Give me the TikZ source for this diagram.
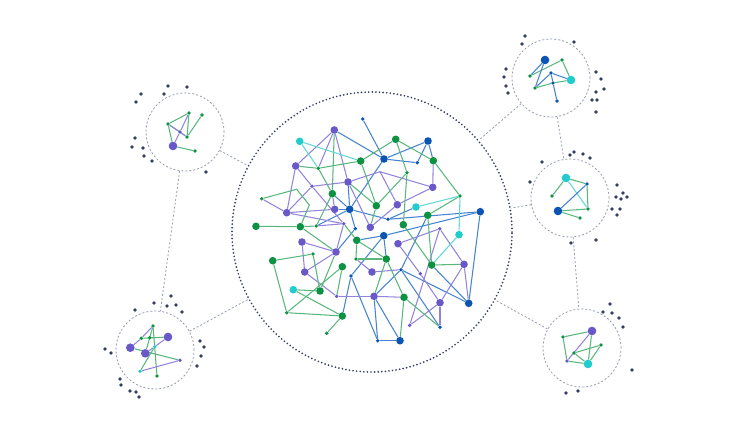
\documentclass[tikz,border=0pt]{standalone}
\pgfdeclarelayer{bg}
\pgfsetlayers{bg,main}
\definecolor{ngreen}{RGB}{12,146,66}
\definecolor{npurple}{RGB}{104,88,200}
\definecolor{nblue}{RGB}{10,84,180}
\definecolor{ncyan}{RGB}{34,204,204}
\definecolor{lgreen}{RGB}{88,184,124}
\definecolor{lpurple}{RGB}{146,132,220}
\definecolor{lblue}{RGB}{70,132,210}
\definecolor{lcyan}{RGB}{96,216,216}
\definecolor{navy}{RGB}{52,62,100}
\definecolor{dashc}{RGB}{150,158,178}
\begin{document}
\begin{tikzpicture}[x=1pt,y=-1pt,
  dotn/.style={circle,inner sep=0pt,draw=none},
  gbig/.style={dotn,minimum size=7.6pt,fill=ngreen},
  gsm/.style={dotn,minimum size=3.8pt,fill=ngreen},
  pbig/.style={dotn,minimum size=7.6pt,fill=npurple},
  psm/.style={dotn,minimum size=3.8pt,fill=npurple},
  bbig/.style={dotn,minimum size=7.6pt,fill=nblue},
  bsm/.style={dotn,minimum size=3.8pt,fill=nblue},
  cbig/.style={dotn,minimum size=7.6pt,fill=ncyan},
  csm/.style={dotn,minimum size=3.8pt,fill=ncyan},
  mbig/.style={minimum size=8.6pt},
  eg/.style={draw=lgreen,line width=1.05pt},
  ep/.style={draw=lpurple,line width=1.05pt},
  eb/.style={draw=lblue,line width=1.05pt},
  ec/.style={draw=lcyan,line width=1.05pt},
  maincirc/.style={circle,inner sep=0pt,minimum size=280pt,draw=navy,line width=1.9pt,dash pattern=on 0pt off 3.6pt,line cap=round},
  minicirc/.style={circle,inner sep=0pt,minimum size=78pt,draw=dashc,line width=0.8pt,dash pattern=on 2pt off 2pt},
  link/.style={draw=dashc,line width=0.8pt,dash pattern=on 2pt off 2pt},
  deco/.style={fill=navy}
]
\useasboundingbox (0,0) rectangle (737,434);

% circles
\node[maincirc] (M) at (372,232) {};
\node[minicirc] (TL) at (185,132) {};
\node[minicirc] (BL) at (155,350) {};
\node[minicirc] (TR) at (551,78) {};
\node[minicirc] (MR) at (570,198) {};
\node[minicirc] (BR) at (582,348) {};

% main network nodes
\node[bsm]  (n1)  at (362.7,119) {};
\node[pbig] (n2)  at (334.3,130) {};
\node[cbig] (n3)  at (299.7,141.3) {};
\node[gbig] (n4)  at (395.7,139.3) {};
\node[bbig] (n5)  at (428,141) {};
\node[gbig] (n6)  at (360.7,161) {};
\node[bbig] (n7)  at (384,159) {};
\node[bsm]  (n8)  at (417.3,162.7) {};
\node[gbig] (n9)  at (433.3,160.7) {};
\node[pbig] (n10) at (295.7,166) {};
\node[gsm]  (n11) at (318.3,168.3) {};
\node[gsm]  (n12) at (407,172.7) {};
\node[pbig] (n13) at (348,182) {};
\node[psm]  (n14) at (312,186.3) {};
\node[pbig] (n15) at (432.7,187.3) {};
\node[gsm]  (n16) at (261.7,198.7) {};
\node[gbig] (n17) at (332.3,193.7) {};
\node[gsm]  (n18) at (460,196) {};
\node[pbig] (n19) at (334.7,209.3) {};
\node[bbig] (n20) at (349.7,209.3) {};
\node[gbig] (n21) at (376.3,205.7) {};
\node[pbig] (n22) at (397.3,204.7) {};
\node[cbig] (n23) at (416,207) {};
\node[bbig] (n24) at (480.3,211.7) {};
\node[pbig] (n25) at (286.7,212.7) {};
\node[gbig] (n26) at (427.7,215.3) {};
\node[bsm]  (n27) at (388,219.3) {};
\node[gbig] (n28) at (256,226.3) {};
\node[gbig] (n29) at (300.3,226.7) {};
\node[gsm]  (n30) at (316.3,226) {};
\node[psm]  (n31) at (343.7,223.7) {};
\node[bsm]  (n32) at (355.3,228.7) {};
\node[pbig] (n33) at (370.3,227.3) {};
\node[gbig] (n34) at (403.3,224.7) {};
\node[bbig] (n35) at (383.7,235.7) {};
\node[cbig] (n36) at (459,234.7) {};
\node[pbig] (n37) at (302,242) {};
\node[gbig] (n38) at (356.7,240.3) {};
\node[pbig] (n39) at (398,243.7) {};
\node[psm]  (n40) at (439.7,228.7) {};
\node[pbig] (n41) at (336,252) {};
\node[gsm]  (n42) at (313,254) {};
\node[gbig] (n43) at (272.7,260.7) {};
\node[gbig] (n44) at (386.3,259) {};
\node[gsm]  (n45) at (356,259) {};
\node[gbig] (n46) at (431.7,265) {};
\node[pbig] (n47) at (464,264.3) {};
\node[gbig] (n48) at (342.3,266.7) {};
\node[pbig] (n49) at (304.7,272) {};
\node[bsm]  (n50) at (401,269.7) {};
\node[pbig] (n51) at (372,272) {};
\node[bsm]  (n52) at (351,276) {};
\node[psm]  (n53) at (420.3,273.7) {};
\node[cbig] (n54) at (293.3,289.7) {};
\node[gbig] (n55) at (320,291) {};
\node[pbig] (n56) at (374,296.3) {};
\node[gbig] (n57) at (404,297.3) {};
\node[psm]  (n58) at (336.7,296.3) {};
\node[pbig] (n59) at (440,302.7) {};
\node[bbig] (n60) at (468.7,303.3) {};
\node[gsm]  (n61) at (286.7,312.7) {};
\node[gbig] (n62) at (342.3,316) {};
\node[psm]  (n63) at (409.7,325.3) {};
\node[bsm]  (n64) at (440,327.3) {};
\node[gsm]  (n65) at (326.7,333.3) {};
\node[bsm]  (n66) at (377.7,340.7) {};
\node[bbig] (n67) at (400,340.7) {};
\coordinate (J1) at (296.7,189.3);
\coordinate (J2) at (309.3,205);
\coordinate (X) at (380,171.7);

% mini networks
\node[gsm] (a1) at (189,113) {};
\node[gsm] (a2) at (202,115) {};
\node[gsm] (a3) at (168,124) {};
\node[psm] (a4) at (180,132) {};
\node[gsm] (a5) at (187,137) {};
\node[pbig,mbig] (a6) at (173,146) {};
\node[gsm] (a7) at (195,151) {};

\node[gsm] (b1) at (153,326) {};
\node[gsm] (b2) at (141.3,338.3) {};
\node[gsm] (b3) at (149.7,337.7) {};
\node[pbig,mbig] (b4) at (168,337) {};
\node[pbig,mbig] (b5) at (130.3,347.7) {};
\node[csm] (b6) at (154.7,346.7) {};
\node[pbig,mbig] (b7) at (145.3,353.3) {};
\node[psm] (b8) at (180,360.3) {};
\node[csm] (b9) at (140,371.3) {};
\node[gsm] (b10) at (157,376) {};

\node[bbig,mbig] (c1) at (545,60) {};
\node[gsm] (c2) at (562,60) {};
\node[gsm] (c3) at (530,76) {};
\node[bsm] (c4) at (551,73) {};
\node[bsm] (c5) at (553,83) {};
\node[gsm] (c6) at (535,88) {};
\node[cbig,mbig] (c7) at (571,80) {};
\node[bsm] (c8) at (557,101) {};

\node[cbig,mbig] (d1) at (566,178) {};
\node[bsm] (d2) at (587,184) {};
\node[gsm] (d3) at (552,196) {};
\node[bbig,mbig] (d4) at (558,211) {};
\node[gsm] (d5) at (588,209) {};
\node[gsm] (d6) at (580,218) {};

\node[pbig,mbig] (e1) at (592,331) {};
\node[gsm] (e2) at (563,337) {};
\node[gsm] (e3) at (601,345) {};
\node[gsm] (e4) at (574,353) {};
\node[psm] (e5) at (567,361) {};
\node[cbig,mbig] (e6) at (588,364) {};

\begin{pgfonlayer}{bg}
\fill[white] (0,0) rectangle (737,434);
% dashed links between circles
\draw[link] (TL) -- (M);
\draw[link] (BL) -- (M);
\draw[link] (TR) -- (M);
\draw[link] (MR) -- (M);
\draw[link] (BR) -- (M);
\draw[link] (TL) -- (BL);
\draw[link] (TR) -- (MR);
\draw[link] (MR) -- (BR);

% main edges
\foreach \a/\b in {1/7,2/7,7/5,7/8,5/8,5/9,7/20,13/20,17/20,20/32,20/27,30/20,27/23,27/24,35/24,24/60,26/50,32/41,52/62,52/66,52/35,35/38,35/44,46/60,50/60,50/64,50/56,56/66,56/67,66/67,19/20}
  \draw[eb] (n\a) -- (n\b);
\foreach \a/\b in {2/10,2/11,2/13,10/14,10/25,14/13,14/25,14/31,16/25,25/19,25/31,22/15,22/33,9/15,13/33,17/19,30/31,37/41,37/49,41/31,41/49,49/58,45/51,58/56,39/53,39/40,40/47,40/63,47/60,47/59,53/59,59/64,50/51,56/57,59/63}
  \draw[ep] (n\a) -- (n\b);
\draw[ep] (n13) -- (X) -- (n15);
\draw[ep] (X) -- (n22);
\foreach \a/\b in {2/17,4/6,4/12,4/9,6/11,6/21,10/11,11/17,17/30,12/34,12/21,9/18,18/26,26/46,46/47,13/21,21/33,28/29,29/30,29/41,31/38,41/55,43/42,42/55,43/61,54/55,54/62,61/62,61/48,48/58,62/65,38/45,38/44,45/44,44/57,44/56,57/64,57/67,34/46}
  \draw[eg] (n\a) -- (n\b);
\draw[eg] (n16) -- (J1) -- (J2) -- (n29);
\foreach \a/\b in {3/6,3/11,18/23,18/36,36/46}
  \draw[ec] (n\a) -- (n\b);

% mini edges
\foreach \a/\b in {a3/a1,a1/a5,a2/a5,a3/a6,a6/a7,a3/a5}
  \draw[eg] (\a) -- (\b);
\foreach \a/\b in {a1/a4,a4/a6,a3/a4,a4/a5}
  \draw[ep] (\a) -- (\b);
\foreach \a/\b in {b1/b10,b1/b7,b2/b4,b5/b8,b6/b9}
  \draw[eg] (\a) -- (\b);
\foreach \a/\b in {b1/b2,b5/b2,b4/b6,b6/b7,b9/b8}
  \draw[ep] (\a) -- (\b);
\foreach \a/\b in {c3/c2,c2/c7,c6/c5,c5/c7}
  \draw[eg] (\a) -- (\b);
\foreach \a/\b in {c1/c3,c1/c6,c6/c4,c4/c7,c4/c5,c5/c8}
  \draw[eb] (\a) -- (\b);
\foreach \a/\b in {d1/d3,d1/d2,d2/d5,d4/d5,d4/d6}
  \draw[eg] (\a) -- (\b);
\draw[ec] (d1) -- (d5);
\draw[eb] (d2) -- (d4);
\foreach \a/\b in {e2/e1,e2/e5,e1/e6,e4/e3,e4/e6,e3/e6,e5/e6}
  \draw[eg] (\a) -- (\b);
\draw[ep] (e1) -- (e5);
\end{pgfonlayer}

% decorative dots
\foreach \p in {(168,86),(187,87),(141,94),(164,94),(136,102),(135,138),(132,147),(143,148),(144,156),(152,161),(206,172),
  (171,296),(154,303),(167,306),(176,305),(135,310),(182,312),(200,341),(204,347),(201,356),(197,366),(105,349),(111,353),(120,379),(121,385),(130,391),(136,392),(139,397),
  (525,36),(522,44),(574,42),(506,69),(504,77),(506,86),(508,93),(596,72),(601,79),(596,92),(604,89),(592,100),(597,100),(596,112),
  (570,155),(574,152),(583,154),(590,158),(542,162),(530,182),(617,185),(623,193),(616,197),(621,199),(627,197),(612,209),(620,209),(617,215),(571,243),(596,240),
  (610,304),(603,312),(612,313),(619,318),(623,327),(632,370),(566,393),(578,391)}
  \fill[deco] \p circle (1.9pt);
\end{tikzpicture}
\end{document}
